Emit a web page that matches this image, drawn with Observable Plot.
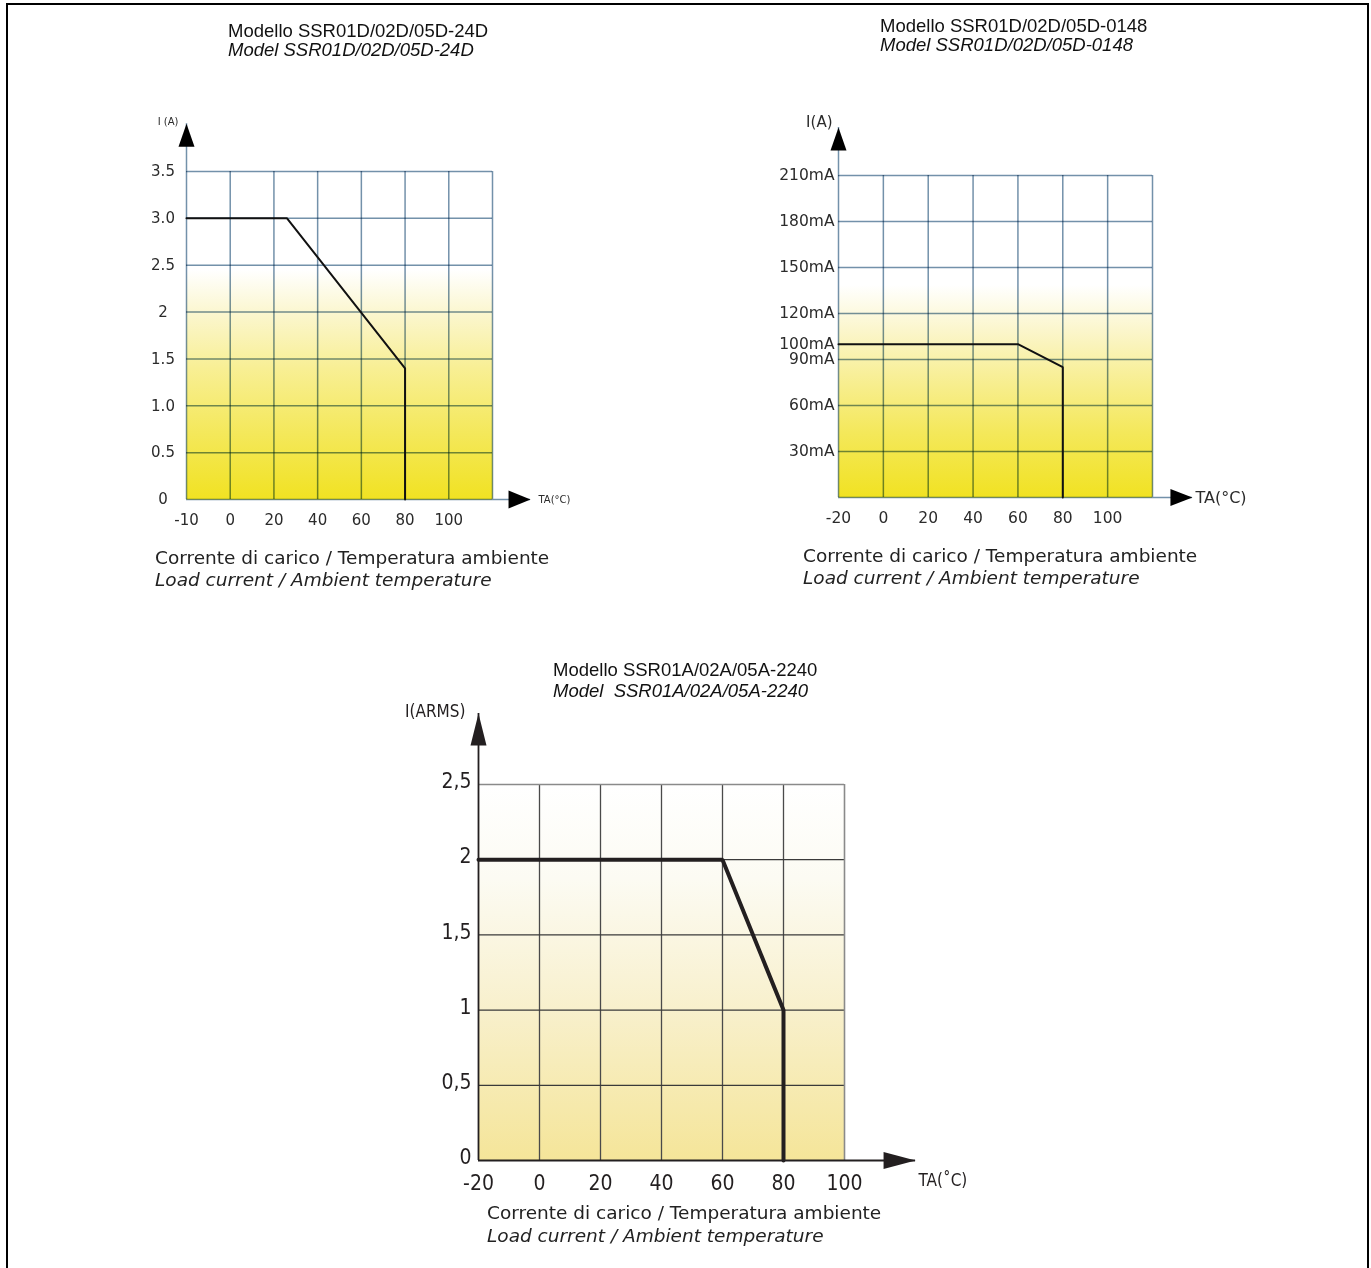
<!DOCTYPE html>
<html>
<head>
<meta charset="utf-8">
<script src="https://cdn.jsdelivr.net/npm/d3@7"></script>
<script src="https://cdn.jsdelivr.net/npm/@observablehq/plot@0.6"></script>
<style>
html, body { margin: 0; padding: 0; background: #fff; }
body { width: 1371px; height: 1268px; overflow: hidden; position: relative; }
.pageBorder { position: absolute; left: 6px; top: 3px; width: 1363px; height: 1400px; border: 2.5px solid #000; border-bottom: none; box-sizing: border-box; }
.t { position: absolute; font-family: "Liberation Sans", Arial, sans-serif; font-size: 18.5px; line-height: 19px; color: #111; white-space: pre; }
.c { position: absolute; font-family: "DejaVu Sans", sans-serif; font-size: 18.5px; line-height: 22px; color: #222; white-space: pre; }
.it { font-style: italic; }
.chart { position: absolute; }
.chart svg { overflow: visible; }
</style>
</head>
<body>
<div class="pageBorder"></div>

<div class="t" style="left:228px; top:21px;">Modello SSR01D/02D/05D-24D<br><span class="it">Model SSR01D/02D/05D-24D</span></div>
<div class="t" style="left:880px; top:16px;">Modello SSR01D/02D/05D-0148<br><span class="it">Model SSR01D/02D/05D-0148</span></div>
<div class="t" style="left:553px; top:659px; line-height:21px;">Modello SSR01A/02A/05A-2240<br><span class="it">Model  SSR01A/02A/05A-2240</span></div>

<div class="c" style="left:155px; top:547px;">Corrente di carico / Temperatura ambiente<br><span class="it">Load current / Ambient temperature</span></div>
<div class="c" style="left:803px; top:545px;">Corrente di carico / Temperatura ambiente<br><span class="it">Load current / Ambient temperature</span></div>
<div class="c" style="left:487px; top:1201px; line-height:23px;">Corrente di carico / Temperatura ambiente<br><span class="it">Load current / Ambient temperature</span></div>

<div id="c1" class="chart" style="left:100px; top:100px;"></div>
<div id="c2" class="chart" style="left:760px; top:100px;"></div>
<div id="c3" class="chart" style="left:400px; top:700px;"></div>

<script>
// ---------- Chart 1: Model SSR01D/02D/05D-24D ----------
const temp1 = [-20, 26, 80, 80];
const current1 = [3.0, 3.0, 1.4, 0];
const xDomain1 = [-20, 120];
const yDomain1 = [0, 3.5];
const xGrid1 = [-20, 0, 20, 40, 60, 80, 100, 120];
const xTickValues1 = [-20, 0, 20, 40, 60, 80, 100];
const xTickLabels1 = ["-10", "0", "20", "40", "60", "80", "100"];
const yTickValues1 = [0, 0.5, 1, 1.5, 2, 2.5, 3, 3.5];
const yTickLabels1 = ["0", "0.5", "1.0", "1.5", "2", "2.5", "3.0", "3.5"];
const axisTip1 = [137.4, 4.01];   // x tip (°C), y tip (A)

// ---------- Chart 2: Model SSR01D/02D/05D-0148 ----------
const temp2 = [-20, 60, 80, 80];
const current2 = [100, 100, 85, 0];  // mA
const xDomain2 = [-20, 120];
const yDomain2 = [0, 210];
const xGrid2 = [-20, 0, 20, 40, 60, 80, 100, 120];
const xTickValues2 = [-20, 0, 20, 40, 60, 80, 100];
const xTickLabels2 = ["-20", "0", "20", "40", "60", "80", "100"];
const yGrid2 = [0, 30, 60, 90, 120, 150, 180, 210];
const yTickValues2 = [30, 60, 90, 100, 120, 150, 180, 210];
const yTickLabels2 = ["30mA", "60mA", "90mA", "100mA", "120mA", "150mA", "180mA", "210mA"];
const axisTip2 = [137.8, 241.3];

// ---------- Chart 3: Model SSR01A/02A/05A-2240 ----------
const temp3 = [-20, 60, 80, 80];
const current3 = [2, 2, 1, 0];  // A rms
const xDomain3 = [-20, 100];
const yDomain3 = [0, 2.5];
const xGrid3 = [0, 20, 40, 60, 80];
const xTickValues3 = [-20, 0, 20, 40, 60, 80, 100];
const xTickLabels3 = ["-20", "0", "20", "40", "60", "80", "100"];
const yGrid3 = [0.5, 1, 1.5, 2];
const yTickValues3 = [0, 0.5, 1, 1.5, 2, 2.5];
const yTickLabels3 = ["0", "0,5", "1", "1,5", "2", "2,5"];
const axisTip3 = [123.3, 2.972];

// ---------- helpers ----------
function addGradient(svg, id, stops) {
  const ns = "http://www.w3.org/2000/svg";
  const defs = document.createElementNS(ns, "defs");
  const lg = document.createElementNS(ns, "linearGradient");
  lg.setAttribute("id", id);
  lg.setAttribute("x1", "0"); lg.setAttribute("y1", "0");
  lg.setAttribute("x2", "0"); lg.setAttribute("y2", "1");
  for (const [o, c] of stops) {
    const s = document.createElementNS(ns, "stop");
    s.setAttribute("offset", o);
    s.setAttribute("stop-color", c);
    lg.appendChild(s);
  }
  defs.appendChild(lg);
  svg.insertBefore(defs, svg.firstChild);
}
function arrowSymbol(w, h) {
  return { draw(ctx) { ctx.moveTo(0, 0); ctx.lineTo(w / 2, h); ctx.lineTo(-w / 2, h); ctx.closePath(); } };
}
const pairs = (xs, ys) => xs.map((x, i) => ({x, y: ys[i]}));
const labelled = (vals, labs) => vals.map((v, i) => ({v, label: labs[i]}));

const gridBlue = "#7391aa";
const yellowStops1 = [[0, "#ffffff"], [0.30, "#ffffff"], [0.44, "#fbf6cc"], [0.6, "#f8ef94"], [0.8, "#f4e85a"], [1, "#f1e222"]];
const yellowStops2 = [[0, "#ffffff"], [0.34, "#ffffff"], [0.48, "#fbf6cc"], [0.62, "#f8ef98"], [0.8, "#f4e85a"], [1, "#f1e222"]];

// ---------- Chart 1 ----------
const svg1 = Plot.plot({
  width: 500, height: 440,
  marginLeft: 86, marginRight: 108, marginTop: 71, marginBottom: 41,
  x: {domain: xDomain1, axis: null},
  y: {domain: yDomain1, axis: null},
  style: {fontFamily: "DejaVu Sans, sans-serif", fontSize: "15px", color: "#2b2b2b", background: "transparent", overflow: "visible"},
  marks: [
    Plot.frame({fill: "url(#grad1)", stroke: "none"}),
    Plot.ruleX(xGrid1, {stroke: gridBlue, strokeWidth: 1.5, mixBlendMode: "multiply"}),
    Plot.ruleY(yTickValues1, {stroke: gridBlue, strokeWidth: 1.5, mixBlendMode: "multiply"}),
    Plot.ruleX([xDomain1[0]], {y1: yDomain1[1], y2: axisTip1[1], stroke: gridBlue, strokeWidth: 1.5}),
    Plot.ruleY([yDomain1[0]], {x1: xDomain1[1], x2: axisTip1[0], stroke: gridBlue, strokeWidth: 1.5}),
    Plot.line(pairs(temp1, current1), {x: "x", y: "y", stroke: "#111", strokeWidth: 2, strokeLinejoin: "miter"}),
    Plot.dot([0], {x: xDomain1[0], y: axisTip1[1], symbol: arrowSymbol(16, 23), fill: "#000", stroke: "none"}),
    Plot.dot([0], {x: axisTip1[0], y: yDomain1[0], symbol: arrowSymbol(18, 22), rotate: 90, fill: "#000", stroke: "none"}),
    Plot.text(labelled(yTickValues1, yTickLabels1), {x: xDomain1[0], y: "v", text: "label", dx: -23.5, textAnchor: "middle", fill: "#2b2b2b"}),
    Plot.text(labelled(xTickValues1, xTickLabels1), {x: "v", y: yDomain1[0], text: "label", dy: 21, fill: "#2b2b2b"}),
    Plot.text(["I (A)"], {x: xDomain1[0], y: axisTip1[1], text: d => d, dx: -8, dy: -2, textAnchor: "end", fontSize: 10, fill: "#2b2b2b"}),
    Plot.text(["TA(°C)"], {x: axisTip1[0], y: yDomain1[0], text: d => d, dx: 8, textAnchor: "start", fontSize: 10, fill: "#2b2b2b"})
  ]
});
addGradient(svg1, "grad1", yellowStops1);
document.getElementById("c1").appendChild(svg1);

// ---------- Chart 2 ----------
const svg2 = Plot.plot({
  width: 500, height: 440,
  marginLeft: 78, marginRight: 108, marginTop: 75, marginBottom: 43,
  x: {domain: xDomain2, axis: null},
  y: {domain: yDomain2, axis: null},
  style: {fontFamily: "DejaVu Sans, sans-serif", fontSize: "15.5px", color: "#2b2b2b", background: "transparent", overflow: "visible"},
  marks: [
    Plot.frame({fill: "url(#grad2)", stroke: "none"}),
    Plot.ruleX(xGrid2, {stroke: gridBlue, strokeWidth: 1.5, mixBlendMode: "multiply"}),
    Plot.ruleY(yGrid2, {stroke: gridBlue, strokeWidth: 1.5, mixBlendMode: "multiply"}),
    Plot.ruleX([xDomain2[0]], {y1: yDomain2[1], y2: axisTip2[1], stroke: gridBlue, strokeWidth: 1.5}),
    Plot.ruleY([yDomain2[0]], {x1: xDomain2[1], x2: axisTip2[0], stroke: gridBlue, strokeWidth: 1.5}),
    Plot.line(pairs(temp2, current2), {x: "x", y: "y", stroke: "#111", strokeWidth: 2, strokeLinejoin: "miter"}),
    Plot.dot([0], {x: xDomain2[0], y: axisTip2[1], symbol: arrowSymbol(16, 23), fill: "#000", stroke: "none"}),
    Plot.dot([0], {x: axisTip2[0], y: yDomain2[0], symbol: arrowSymbol(17, 22), rotate: 90, fill: "#000", stroke: "none"}),
    Plot.text(labelled(yTickValues2, yTickLabels2), {x: xDomain2[0], y: "v", text: "label", dx: -4, textAnchor: "end", fill: "#2b2b2b"}),
    Plot.text(labelled(xTickValues2, xTickLabels2), {x: "v", y: yDomain2[0], text: "label", dy: 21, fill: "#2b2b2b"}),
    Plot.text(["I(A)"], {x: xDomain2[0], y: axisTip2[1], text: d => d, dx: -6, dy: -5, textAnchor: "end", fontSize: 15, fill: "#2b2b2b"}),
    Plot.text(["TA(°C)"], {x: axisTip2[0], y: yDomain2[0], text: d => d, dx: 3, textAnchor: "start", fontSize: 16, fill: "#2b2b2b"})
  ]
});
addGradient(svg2, "grad2", yellowStops2);
document.getElementById("c2").appendChild(svg2);

// ---------- Chart 3 ----------
const svg3 = Plot.plot({
  width: 580, height: 500,
  marginLeft: 78, marginRight: 136, marginTop: 84, marginBottom: 40,
  x: {domain: xDomain3, axis: null},
  y: {domain: yDomain3, axis: null},
  style: {fontFamily: "'Liberation Sans Narrow', 'DejaVu Sans Condensed', sans-serif", fontSize: "21px", color: "#231f20", background: "transparent", overflow: "visible"},
  marks: [
    Plot.frame({fill: "url(#grad3)", stroke: "none"}),
    Plot.ruleX(xGrid3, {stroke: "#4a4a4a", strokeWidth: 1.3}),
    Plot.ruleY(yGrid3, {stroke: "#3a3a3a", strokeWidth: 1.3}),
    Plot.ruleY([yDomain3[1]], {stroke: "#8a8a8a", strokeWidth: 1.6}),
    Plot.ruleX([xDomain3[1]], {stroke: "#8a8a8a", strokeWidth: 1.6}),
    Plot.ruleX([xDomain3[0]], {y1: yDomain3[0], y2: axisTip3[1], stroke: "#231f20", strokeWidth: 1.8}),
    Plot.ruleY([yDomain3[0]], {x1: xDomain3[0], x2: axisTip3[0], stroke: "#231f20", strokeWidth: 1.8}),
    Plot.line(pairs(temp3, current3), {x: "x", y: "y", stroke: "#231f20", strokeWidth: 4, strokeLinejoin: "miter"}),
    Plot.dot([0], {x: xDomain3[0], y: axisTip3[1], symbol: arrowSymbol(16, 32), fill: "#231f20", stroke: "none"}),
    Plot.dot([0], {x: axisTip3[0], y: yDomain3[0], symbol: arrowSymbol(17, 32), rotate: 90, fill: "#231f20", stroke: "none"}),
    Plot.text(labelled(yTickValues3, yTickLabels3), {x: xDomain3[0], y: "v", text: "label", dx: -7, dy: -3, textAnchor: "end", fill: "#231f20"}),
    Plot.text(labelled(xTickValues3, xTickLabels3), {x: "v", y: yDomain3[0], text: "label", dy: 23, fill: "#231f20"}),
    Plot.text(["I(ARMS)"], {x: xDomain3[0], y: axisTip3[1], text: d => d, dx: -13, dy: -2, textAnchor: "end", fontSize: 17, fill: "#231f20"}),
    Plot.text(["TA(˚C)"], {x: axisTip3[0], y: yDomain3[0], text: d => d, dx: 3, dy: 20, textAnchor: "start", fontSize: 17, fill: "#231f20"})
  ]
});
addGradient(svg3, "grad3", [[0, "#ffffff"], [0.25, "#fcfbf3"], [0.6, "#f8f0cc"], [1, "#f5e599"]]);
document.getElementById("c3").appendChild(svg3);
</script>
</body>
</html>
